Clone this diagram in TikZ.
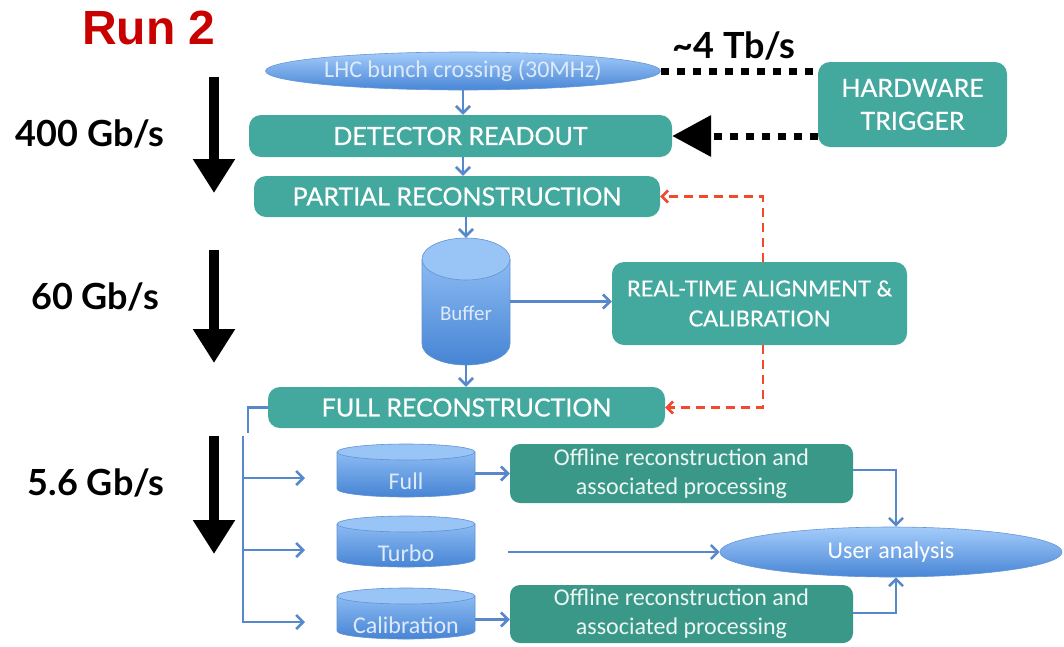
\documentclass[tikz,border=0pt]{standalone}
\usepackage{fontspec}
\usetikzlibrary{arrows.meta,shapes.geometric,calc}

\newfontfamily\boxfont{Lato}[FakeBold=0.6]
\newfontfamily\ratefont{Lato}
\newfontfamily\calfont{Carlito}
\newfontfamily\runfont{Liberation Sans}

\definecolor{tealA}{RGB}{67,168,158}
\definecolor{tealB}{RGB}{58,152,136}
\definecolor{offtext}{RGB}{236,246,243}
\definecolor{flowblue}{RGB}{88,136,204}
\definecolor{fbred}{RGB}{242,72,46}
\definecolor{runred}{RGB}{200,0,0}
\definecolor{ellTop}{RGB}{164,204,250}
\definecolor{ellBot}{RGB}{72,134,214}
\definecolor{ellEdge}{RGB}{100,150,215}
\definecolor{cylTop}{RGB}{140,187,243}
\definecolor{cylBot}{RGB}{70,132,212}
\definecolor{cylCap}{RGB}{152,196,246}
\definecolor{cylEdge}{RGB}{98,146,210}
\definecolor{softtext}{RGB}{222,234,250}

\tikzset{
  box/.style={rectangle, rounded corners=12pt, fill=tealA, text=white,
    font=\boxfont\fontsize{25}{29}\selectfont, inner sep=0pt, align=center},
  twoline/.style={font=\boxfont\fontsize{22}{30}\selectfont},
  offbox/.style={rectangle, rounded corners=10pt, fill=tealB, text=offtext,
    font=\calfont\fontsize{24}{29}\selectfont, inner sep=0pt, align=center},
  blob/.style={ellipse, top color=ellTop, bottom color=ellBot, draw=ellEdge,
    line width=0.6pt, inner sep=0pt},
  cyltext/.style={inner sep=0pt, text=softtext, font=\calfont\fontsize{24}{28}\selectfont},
  flow/.style={draw=flowblue, line width=2.6pt, -{Straight Barb[length=7pt,width=14pt]}},
  plainflow/.style={draw=flowblue, line width=2.6pt},
  feedback/.style={draw=fbred, line width=2.6pt, dash pattern=on 9pt off 6pt,
    -{Straight Barb[length=6pt,width=12pt]}},
  trig/.style={line width=7pt, dash pattern=on 8pt off 8pt},
  rate/.style={inner sep=0pt, font=\ratefont\bfseries\fontsize{36}{40}\selectfont},
  bigdown/.style={line width=10pt, -{Triangle[length=34pt,width=40pt]}},
}

% storage cylinder: name, centre x, top y, bottom y, half width, cap radius, label y, label
\newcommand{\dbcyl}[8]{%
  \shade[top color=cylTop, bottom color=cylBot]
    (#2-#5,#3+#6) -- (#2-#5,#4-#6)
    arc[start angle=180, end angle=0, x radius=#5, y radius=#6]
    -- (#2+#5,#3+#6) -- cycle;
  \draw[cylEdge, line width=0.6pt]
    (#2-#5,#3+#6) -- (#2-#5,#4-#6)
    arc[start angle=180, end angle=0, x radius=#5, y radius=#6]
    -- (#2+#5,#3+#6);
  \filldraw[fill=cylCap, draw=cylEdge, line width=0.6pt]
    (#2,#3+#6) ellipse[x radius=#5, y radius=#6];
  \node[inner sep=0pt, minimum width=2*#5*1pt, minimum height=(#4-#3)*1pt]
    (#1) at (#2,{(#3+#4)/2}) {};
  \node[cyltext] (#1-label) at (#2,#7) {#8};
}

\begin{document}
\begin{tikzpicture}[x=1pt, y=-1pt]
\useasboundingbox (0,0) rectangle (1064,646);

% titles and data rates
\node[text=runred, inner sep=0pt, font=\runfont\bfseries\fontsize{48}{52}\selectfont]
  (run) at (149,28) {Run 2};
\node[rate] (r400) at (90,134) {400 Gb/s};
\node[rate] (r60) at (95,297) {60 Gb/s};
\node[rate] (r56) at (96,483) {5.6 Gb/s};
\node[rate] (r4t) at (734,46) {\textasciitilde4 Tb/s};

\coordinate (a1s) at (214,77);  \coordinate (a1e) at (214,193);
\coordinate (a2s) at (214,250); \coordinate (a2e) at (214,363);
\coordinate (a3s) at (214,436); \coordinate (a3e) at (214,554);
\draw[bigdown] (a1s) -- (a1e);
\draw[bigdown] (a2s) -- (a2e);
\draw[bigdown] (a3s) -- (a3e);

% online chain
\node[blob, minimum width=395pt, minimum height=38pt, text=softtext,
  font=\calfont\fontsize{24}{28}\selectfont] (lhc) at (463,71) {LHC bunch crossing (30MHz)};
\node[box, minimum width=423pt, minimum height=42pt] (det) at (460.5,136) {DETECTOR READOUT};
\node[box, minimum width=406pt, minimum height=41pt] (par) at (457,196.5) {PARTIAL RECONSTRUCTION};
\node[box, font=\boxfont\fontsize{25}{33}\selectfont, minimum width=189pt, minimum height=85pt]
  (hw) at (912.5,104.5) {HARDWARE\\TRIGGER};
\node[box, twoline, minimum width=295pt, minimum height=83pt]
  (rt) at (759.5,303.5) {REAL-TIME ALIGNMENT \&\\CALIBRATION};
\node[box, minimum width=397pt, minimum height=41pt] (full) at (466.5,407.5) {FULL RECONSTRUCTION};

\dbcyl{buf}{466}{238}{365}{44}{21}{313}{\fontsize{21}{24}\selectfont Buffer}

% offline part
\dbcyl{cfull}{406}{444}{497}{69}{8}{481}{Full}
\dbcyl{cturbo}{406}{516}{567}{69}{8}{553}{Turbo}
\dbcyl{ccal}{406}{588}{639}{69}{8}{625}{Calibration}

\node[offbox, minimum width=343pt, minimum height=59pt] (off1) at (681.5,473.5)
  {Offline reconstruction and\\associated processing};
\node[offbox, minimum width=343pt, minimum height=58pt] (off2) at (681.5,614)
  {Offline reconstruction and\\associated processing};
\node[blob, minimum width=342pt, minimum height=50pt, text=white,
  font=\calfont\fontsize{24}{28}\selectfont] (ua) at (891,552) {User analysis};

% hardware trigger links
\draw[trig] (lhc.east) -- (lhc.east -| hw.west);
\draw[trig, -{Triangle[length=39pt,width=40pt]}] (hw.west |- det.east) -- (det.east);

% online flow
\draw[flow] (lhc.south) -- (lhc.south |- det.north);
\draw[flow] (lhc.south |- det.south) -- (lhc.south |- par.north);
\draw[flow] (par.south -| buf) -- (buf.north);
\draw[flow] (buf.south) -- (full.north -| buf);
\draw[flow] (buf.east) -- (buf.east -| rt.west);

% calibration feedback
\draw[feedback] ([xshift=3.5pt]rt.north) |- (par.east);
\draw[feedback] ([xshift=3.5pt]rt.south) |- (full.east);

% output streams
\coordinate (fj) at (248,433);
\draw[plainflow] (full.west) -| (fj);
\coordinate (trunk) at (243,436);
\coordinate (brA) at (243,478); \coordinate (tipA) at (305,478);
\coordinate (brB) at (243,550); \coordinate (tipB) at (305,550);
\coordinate (brC) at (243,622); \coordinate (tipC) at (305,622);
\draw[plainflow] (trunk) -- ([yshift=-1.3pt]brC);
\draw[flow] ([xshift=-1.3pt]brA) -- (tipA);
\draw[flow] ([xshift=-1.3pt]brB) -- (tipB);
\draw[flow] ([xshift=-1.3pt]brC) -- (tipC);

\draw[flow] (cfull.east |- off1.west) -- (off1.west);
\draw[flow] ([yshift=-6pt]ccal.east) -- ([yshift=-6pt]ccal.east -| off2.west);
\coordinate (turboOut) at (508,552);
\draw[flow] (turboOut) -- (ua.west);

\draw[flow] ([yshift=3.5pt]off1.east) -| ([xshift=5pt]ua.north);
\draw[flow] ([yshift=1pt]off2.east) -| ([xshift=5pt]ua.south);
\end{tikzpicture}
\end{document}
